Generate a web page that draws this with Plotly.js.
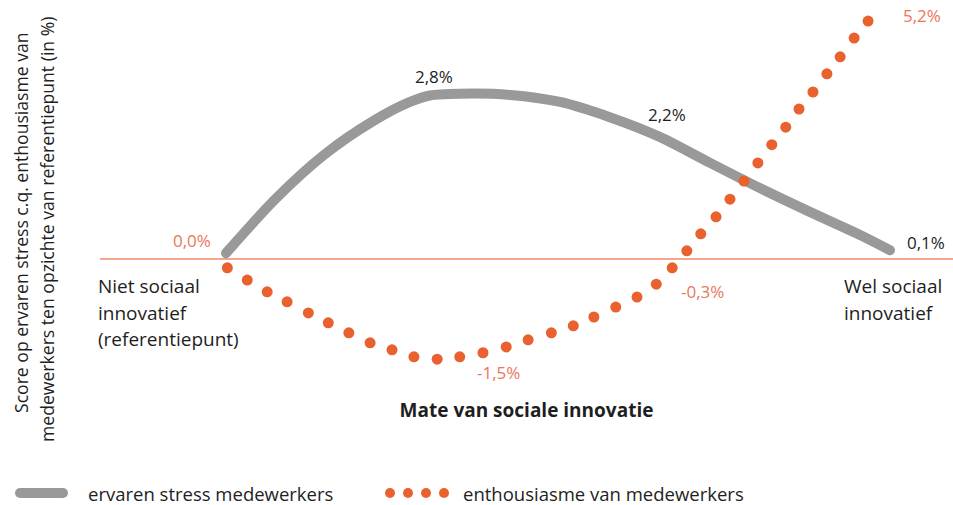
<!DOCTYPE html>
<html>
<head>
<meta charset="utf-8">
<script src="https://cdn.plot.ly/plotly-3.0.1.min.js"></script>
<style>
  html, body { margin: 0; padding: 0; background: #fff; }
  #chart { width: 953px; height: 505px; }
  .scatterlayer .js-line { stroke-linecap: round; }
</style>
</head>
<body>
<div id="chart"></div>
<script>
// ---- Data (schematic y-units) ----
const stressX = [0, 7.4, 14.9, 22.4, 27.7, 30.7, 35.2, 42.8, 50.3, 57.8, 65.4, 72.9, 80.4, 88.0, 95.5, 100];
const stressY = [0.10, 1.02, 1.79, 2.37, 2.68, 2.79, 2.82, 2.80, 2.68, 2.42, 2.08, 1.64, 1.21, 0.80, 0.41, 0.15];

const enthX = [0.2, 3.2, 6.2, 9.2, 12.4, 15.4, 18.5, 21.7, 25.0, 28.3, 31.8, 35.2, 38.7, 42.2, 45.5, 49.0,
               52.3, 55.4, 58.7, 61.9, 64.8, 67.2, 69.4, 71.5, 73.8, 75.9, 78.0, 80.1, 82.2, 84.3, 86.3,
               88.4, 90.5, 92.5, 94.6, 96.7];
const enthY = [-0.15, -0.36, -0.56, -0.73, -0.92, -1.09, -1.26, -1.43, -1.55, -1.67, -1.71, -1.67, -1.60,
               -1.50, -1.38, -1.26, -1.14, -0.99, -0.82, -0.65, -0.43, -0.15, 0.14, 0.43, 0.72, 1.02,
               1.33, 1.64, 1.95, 2.25, 2.56, 2.85, 3.16, 3.45, 3.77, 4.06];

const seriesNames = ['ervaren stress medewerkers', 'enthousiasme van medewerkers'];
const xTitle = 'Mate van sociale innovatie';
const yTitleLines = ['Score op ervaren stress c.q. enthousiasme van',
                     'medewerkers ten opzichte van referentiepunt (in %)'];
const leftLabel = ['Niet sociaal', 'innovatief', '(referentiepunt)'];
const rightLabel = ['Wel sociaal', 'innovatief'];
const valueLabels = ['0,0%', '2,8%', '2,2%', '0,1%', '5,2%', '-0,3%', '-1,5%'];

// ---- Layout helpers ----
const ML = 100, MT = 0, PW = 853, PH = 380;
const FONT = 'Open Sans, Noto Sans, sans-serif';
const GRAY = '#999999', ORANGE = '#e8612f', ORANGE_TXT = '#e9765a', DARK = '#1e1e1e';
function pX(px) { return (px - ML) / PW; }
function pY(py) { return (MT + PH - py) / PH; }

const traces = [
  {
    x: stressX, y: stressY, name: seriesNames[0], type: 'scatter', mode: 'lines',
    line: { color: GRAY, width: 10, shape: 'spline', smoothing: 0.8 },
    hoverinfo: 'skip', showlegend: false
  },
  {
    x: enthX, y: enthY, name: seriesNames[1], type: 'scatter', mode: 'markers',
    marker: { color: ORANGE, size: 11, line: { width: 0 } },
    hoverinfo: 'skip', showlegend: false
  }
];

function txt(text, x, y, opts) {
  return Object.assign({
    text: text, x: x, y: y, xref: 'x', yref: 'y', showarrow: false,
    font: { family: FONT, size: 17, color: DARK },
    xanchor: 'center', yanchor: 'middle'
  }, opts || {});
}
const orangeFont = { family: FONT, size: 17, color: ORANGE_TXT };

const annotations = [
  txt(valueLabels[0], -5.1, 0.31, { font: orangeFont }),
  txt(valueLabels[1], 31.3, 3.11),
  txt(valueLabels[2], 66.4, 2.46),
  txt(valueLabels[3], 105.4, 0.29),
  txt(valueLabels[4], 104.8, 4.15, { font: orangeFont }),
  txt(valueLabels[5], 71.7, -0.55, { font: orangeFont }),
  txt(valueLabels[6], 41.1, -1.93, { font: orangeFont })
];

// left / right category labels
const catFont = { family: FONT, size: 19, color: DARK };
[286, 313, 339].forEach(function (py, i) {
  annotations.push(txt(leftLabel[i], pX(96), pY(py), { xref: 'paper', yref: 'paper', xanchor: 'left', font: catFont }));
});
[286, 313].forEach(function (py, i) {
  annotations.push(txt(rightLabel[i], pX(842), pY(py), { xref: 'paper', yref: 'paper', xanchor: 'left', font: catFont }));
});

// y-axis title (two rotated, centred lines)
[[21, 223], [47, 230]].forEach(function (p, i) {
  annotations.push(txt(yTitleLines[i], pX(p[0]), pY(p[1]), {
    xref: 'paper', yref: 'paper', textangle: -90,
    font: { family: FONT, size: 17.6, color: DARK }
  }));
});

// legend texts
const legFont = { family: FONT, size: 18.5, color: DARK };
annotations.push(txt(seriesNames[0], pX(86), pY(493), { xref: 'paper', yref: 'paper', xanchor: 'left', font: legFont }));
annotations.push(txt(seriesNames[1], pX(461), pY(493), { xref: 'paper', yref: 'paper', xanchor: 'left', font: legFont }));

// legend swatches
const shapes = [];
function dot(cx, cy, r, color) {
  shapes.push({
    type: 'circle', xref: 'paper', yref: 'paper', xsizemode: 'pixel', ysizemode: 'pixel',
    xanchor: pX(cx), yanchor: pY(cy), x0: -r, x1: r, y0: -r, y1: r,
    fillcolor: color, line: { width: 0 }
  });
}
shapes.push({
  type: 'line', xref: 'paper', yref: 'paper', x0: pX(20), x1: pX(63), y0: pY(493), y1: pY(493),
  line: { color: GRAY, width: 10 }
});
dot(20, 493, 5, GRAY);
dot(63, 493, 5, GRAY);
[390, 408, 426, 444].forEach(function (cx) { dot(cx, 493, 5, ORANGE); });

const layout = {
  width: 953, height: 505,
  margin: { l: ML, r: 953 - ML - PW, t: MT, b: 505 - MT - PH },
  paper_bgcolor: '#ffffff', plot_bgcolor: '#ffffff',
  showlegend: false,
  font: { family: FONT, color: DARK },
  xaxis: {
    range: [-18.98, 109.49], showgrid: false, zeroline: false, showline: false,
    showticklabels: false, ticks: '',
    title: { text: '<b>' + xTitle + '</b>', font: { family: FONT, size: 19, color: DARK }, standoff: 23 }
  },
  yaxis: {
    range: [-2.065, 4.42], showgrid: false, showticklabels: false, ticks: '', showline: false,
    zeroline: true, zerolinecolor: '#f4a68e', zerolinewidth: 2
  },
  annotations: annotations,
  shapes: shapes
};

Plotly.newPlot('chart', traces, layout, { displayModeBar: false, staticPlot: true });
</script>
</body>
</html>
